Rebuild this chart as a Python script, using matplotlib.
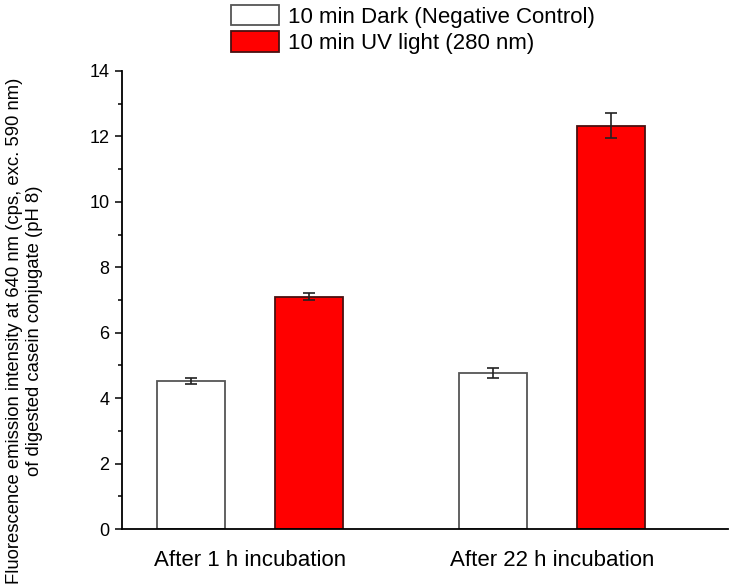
import numpy as np
import matplotlib
matplotlib.use("Agg")
import matplotlib.pyplot as plt

plt.rcParams['font.family'] = ['Liberation Sans', 'DejaVu Sans']

groups = ["After 1 h incubation", "After 22 h incubation"]
dark = [4.53, 4.76]
dark_err = [0.09, 0.15]
uv = [7.10, 12.33]
uv_err = [0.11, 0.39]
legend = ["10 min Dark (Negative Control)", "10 min UV light (280 nm)"]

fig = plt.figure(figsize=(7.33, 5.88), dpi=100)
ax = fig.add_axes([0.1664, 0.1003, 0.8268, 0.7790])

x = np.arange(len(groups))
width = 0.2255
off = 0.1957
err_kw = dict(ecolor='#222222', elinewidth=1.2, capsize=4.5, capthick=1.2)
b1 = ax.bar(x - off, dark, width, yerr=dark_err, color='white', edgecolor='#555555',
            linewidth=1.3, error_kw=err_kw, label=legend[0])
b2 = ax.bar(x + off, uv, width, yerr=uv_err, color='#ff0000', edgecolor='#4a1010',
            linewidth=1.3, error_kw=err_kw, label=legend[1])

ax.set_xlim(-0.426, 1.584)
ax.set_ylim(0, 14)
ax.set_yticks(np.arange(0, 15, 2))
ax.set_yticks(np.arange(1, 14, 2), minor=True)
ax.set_xticks(x)
ax.set_xticklabels(groups, fontsize=16)
ax.tick_params(axis='y', which='major', length=5, width=1.1, labelsize=13, pad=4)
ax.tick_params(axis='y', which='minor', length=3, width=1.1)
ax.tick_params(axis='x', length=0, pad=15)
for s in ['top', 'right']:
  ax.spines[s].set_visible(False)
for s in ['left', 'bottom']:
  ax.spines[s].set_linewidth(1.3)

fig.text(0.0334, 0.437,
         "Fluorescence emission intensity at 640 nm (cps, exc. 590 nm)\nof digested casein conjugate (pH 8)",
         rotation=90, ha='center', va='center', multialignment='center', fontsize=13.3)

fig.legend(handles=[b1, b2], labels=legend, loc='upper left', bbox_to_anchor=(0.3147, 0.992),
           frameon=False, fontsize=16, borderpad=0, borderaxespad=0, handlelength=2.19,
           handleheight=1.06, labelspacing=0.16, handletextpad=0.39)

plt.savefig("out.png", dpi=100)
plt.close()
